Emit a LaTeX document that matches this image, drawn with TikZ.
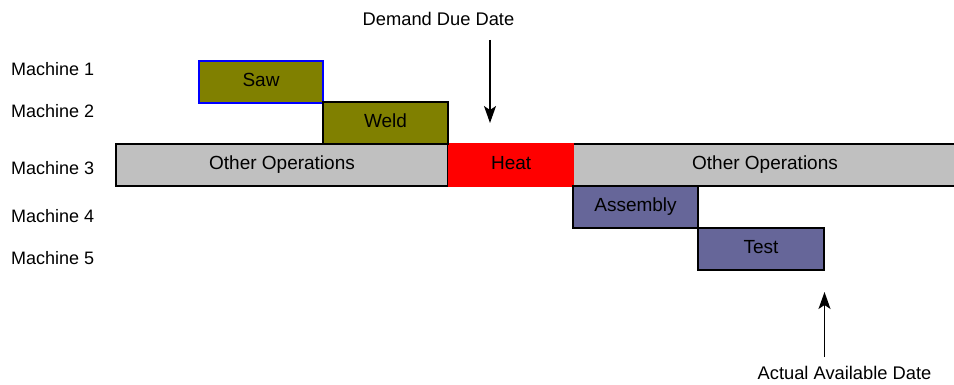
\documentclass[tikz,border=0pt]{standalone}
\usepackage{fontspec}
\setmainfont{Liberation Sans}
\usetikzlibrary{arrows.meta}

\definecolor{olivebar}{HTML}{808000}
\definecolor{slatebar}{HTML}{666699}
\definecolor{greybar}{HTML}{C0C0C0}
\definecolor{heatred}{HTML}{FF0000}
\definecolor{sawblue}{HTML}{0000FF}

\tikzset{
  bar/.style={draw=black, line width=1.4pt, rectangle, inner sep=0pt, outer sep=0pt,
    anchor=north west, minimum height=42pt, text height=13pt, text depth=4pt,
    font=\fontsize{19}{22}\selectfont},
  rowlabel/.style={anchor=west, inner sep=0pt, font=\fontsize{18}{21}\selectfont},
  note/.style={inner sep=0pt, font=\fontsize{18.3}{21}\selectfont},
  marker/.style={line width=1.4pt, -{Stealth[length=17pt, width=12pt, inset=4pt]}},
}

\begin{document}
\begin{tikzpicture}[x=1pt, y=-1pt]
  \useasboundingbox (0,0) rectangle (954,385);

  % machine rows
  \node[rowlabel] (m1) at (11,69)  {Machine 1};
  \node[rowlabel] (m2) at (11,111) {Machine 2};
  \node[rowlabel] (m3) at (11,168) {Machine 3};
  \node[rowlabel] (m4) at (11,216) {Machine 4};
  \node[rowlabel] (m5) at (11,258) {Machine 5};

  % operations on each machine
  \node[bar, fill=greybar, minimum width=332pt] (other1) at (116,144) {Other Operations};
  \node[bar, fill=greybar, minimum width=384pt] (other2) at (573,144) {Other Operations};
  \node[bar, fill=heatred, draw=heatred, minimum width=125pt] (heat) at (448.7,144) {Heat};
  \node[bar, fill=olivebar, draw=sawblue, minimum width=124pt] (saw) at (199,61) {Saw};
  \node[bar, fill=olivebar, minimum width=125pt] (weld) at (323,102) {Weld};
  \node[bar, fill=slatebar, minimum width=125pt] (assembly) at (573,186) {Assembly};
  \node[bar, fill=slatebar, minimum width=126pt] (test) at (698,228) {Test};

  % date markers
  \node[note] (due) at (438.5,19) {Demand Due Date};
  \coordinate (dueStart) at (490,40);
  \coordinate (dueEnd) at (490,123);
  \draw[marker] (dueStart) -- (dueEnd);

  \node[note] (avail) at (844.5,373) {Actual Available Date};
  \coordinate (availStart) at (824.5,357);
  \coordinate (availEnd) at (824.5,292);
  \draw[marker] (availStart) -- (availEnd);
\end{tikzpicture}
\end{document}
